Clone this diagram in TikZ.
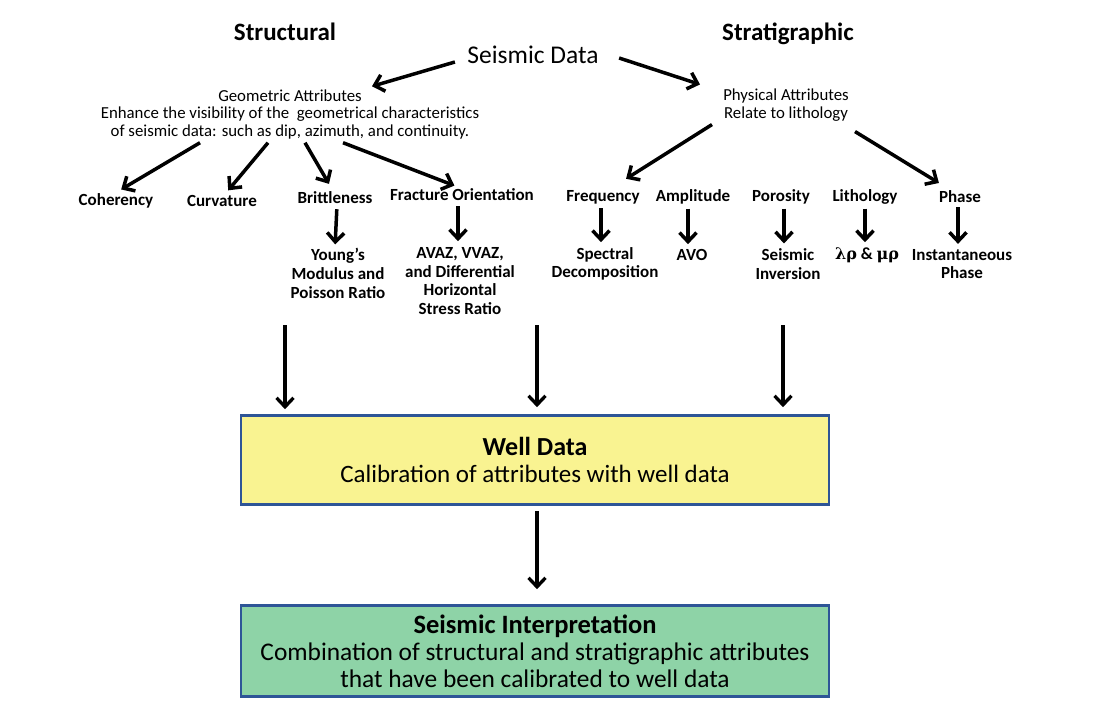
\documentclass[tikz,border=0pt]{standalone}
\usepackage{fontspec}
\setmainfont{Carlito}
\newfontfamily\greekfont{DejaVu Serif}
\usetikzlibrary{arrows.meta,positioning}

\definecolor{wellyellow}{HTML}{F9F391}
\definecolor{interpgreen}{HTML}{8ED3A7}
\definecolor{boxblue}{HTML}{2E5597}

\begin{document}
\begin{tikzpicture}[x=1pt,y=-1pt]

      \useasboundingbox (0,0) rectangle (1100,720);

      % titles and the two attribute groups
      \begin{scope}[every node/.style={anchor=base, font=\bfseries\fontsize{25}{28}\selectfont}]
        \node (struct) at (285,40) {Structural};
        \node (strat)  at (788,40) {Stratigraphic};
      \end{scope}

      \node[font=\fontsize{25.5}{28}\selectfont] (sd) at (533,55) {Seismic Data};

      \begin{scope}[every node/.style={font=\fontsize{16.8}{17.5}\selectfont, align=center}]
        \node (geo)  at (290,114.5) {Geometric Attributes\\Enhance the visibility of the\ \ geometrical characteristics\\of seismic data: such as dip, azimuth, and continuity.};
        \node (phys) at (786,105) {Physical Attributes\\Relate to lithology};
      \end{scope}

      % attribute names and methods
      \begin{scope}[every node/.style={font=\bfseries\fontsize{17}{18.7}\selectfont, align=center, inner sep=1pt}]
        \node (coh)   at (116,201) {Coherency};
        \node (curv)  at (222,201) {Curvature};
        \node (brit)  at (335,198) {Brittleness};
        \node (frac)  at (462,195) {Fracture Orientation};
        \node (young) at (338,273.5) {Young's\\Modulus and\\Poisson Ratio};
        \node (avaz)  at (460,281) {AVAZ, VVAZ,\\and Differential\\Horizontal\\Stress Ratio};

        \node (freq)  at (603,197) {Frequency};
        \node (ampl)  at (693,197) {Amplitude};
        \node (poro)  at (781,197) {Porosity};
        \node (lith)  at (865,197) {Lithology};
        \node (phase) at (960,197) {Phase};
        \node (spec)  at (605,264) {Spectral\\Decomposition};
        \node (avo)   at (692,255) {AVO};
        \node (inv)   at (788,264) {Seismic\\Inversion};
        \node (lamb)  at (867,255) {{\greekfont\fontsize{16}{18}\selectfont λρ} \& {\greekfont\fontsize{16}{18}\selectfont μρ}};
        \node (inst)  at (962,264) {Instantaneous\\Phase};
      \end{scope}

      % calibration boxes
      \begin{scope}[every node/.style={draw=boxblue, line width=2.6pt, minimum width=588pt, align=center}]
        \node[fill=wellyellow, minimum height=89pt, font=\fontsize{25}{27}\selectfont] (well) at (535,460)
          {{\bfseries\fontsize{26}{27}\selectfont Well Data}\\Calibration of attributes with well data};
        \node[fill=interpgreen, minimum height=91pt, font=\fontsize{25.4}{27}\selectfont] (interp) at (535,651)
          {{\bfseries\fontsize{26.5}{27}\selectfont Seismic Interpretation}\\Combination of structural and stratigraphic attributes\\that have been calibrated to well data};
      \end{scope}

      \coordinate (s1) at (285,325);
      \coordinate (s2) at (537,325);
      \coordinate (s3) at (783,325);

      \begin{scope}[every edge/.style={draw, line width=3.5pt,
          -{Straight Barb[length=9pt,width=17pt]}}]
        \path ([xshift=-9pt,yshift=-7pt]sd.west) edge ([xshift=82pt]geo.north);
        \path ([xshift=17pt,yshift=-3pt]sd.east) edge ([xshift=-86pt,yshift=1pt]phys.north);

        \path ([xshift=-90pt]geo.south) edge[shorten >=6pt] (coh.north);
        \path ([xshift=-22pt]geo.south) edge[shorten >=5pt] ([xshift=3pt]curv.north);
        \path ([xshift=15pt]geo.south)  edge[shorten >=8pt] ([xshift=-2pt]brit.north);
        \path ([xshift=53pt]geo.south)  edge[shorten >=6pt] ([xshift=-2pt]frac.north);

        \path ([xshift=-74pt]phys.south) edge[shorten >=19pt] ([xshift=7pt]freq.north);
        \path ([xshift=69pt,yshift=-7pt]phys.south) edge[shorten >=13pt] ([xshift=-10pt]phase.north);

        \path ([xshift=2pt]brit.south) edge[shorten <=4pt, shorten >=3pt] (brit.south |- young.north);
        \path ([xshift=-4pt]frac.south) edge[shorten <=4pt, shorten >=5pt] ([xshift=-4pt]frac.south |- avaz.north);
        \path ([xshift=-2pt]freq.south) edge[shorten <=3pt, shorten >=4pt] ([xshift=-2pt]freq.south |- spec.north);
        \path ([xshift=-5pt]ampl.south) edge[shorten <=3pt, shorten >=4pt] ([xshift=-5pt]ampl.south |- avo.north);
        \path ([xshift=3pt]poro.south)  edge[shorten <=3pt, shorten >=4pt] ([xshift=3pt]poro.south |- inv.north);
        \path (lith.south)  edge[shorten <=3pt, shorten >=4pt] (lith.south |- lamb.north);
        \path ([xshift=-2pt]phase.south) edge[shorten <=3pt, shorten >=4pt] ([xshift=-2pt]phase.south |- inst.north);
      \end{scope}

      \begin{scope}[every edge/.style={draw, line width=3.3pt,
          -{Straight Barb[length=9pt,width=17pt]}}]
        \path (s1) edge[shorten >=5pt] (s1 |- well.north);
        \path (s2) edge[shorten >=7pt] (s2 |- well.north);
        \path (s3) edge[shorten >=7pt] (s3 |- well.north);
        \path ([xshift=2pt,yshift=-5pt]well.south) edge[shorten >=15pt] ([xshift=2pt]interp.north);
      \end{scope}

    \end{tikzpicture}
\end{document}
